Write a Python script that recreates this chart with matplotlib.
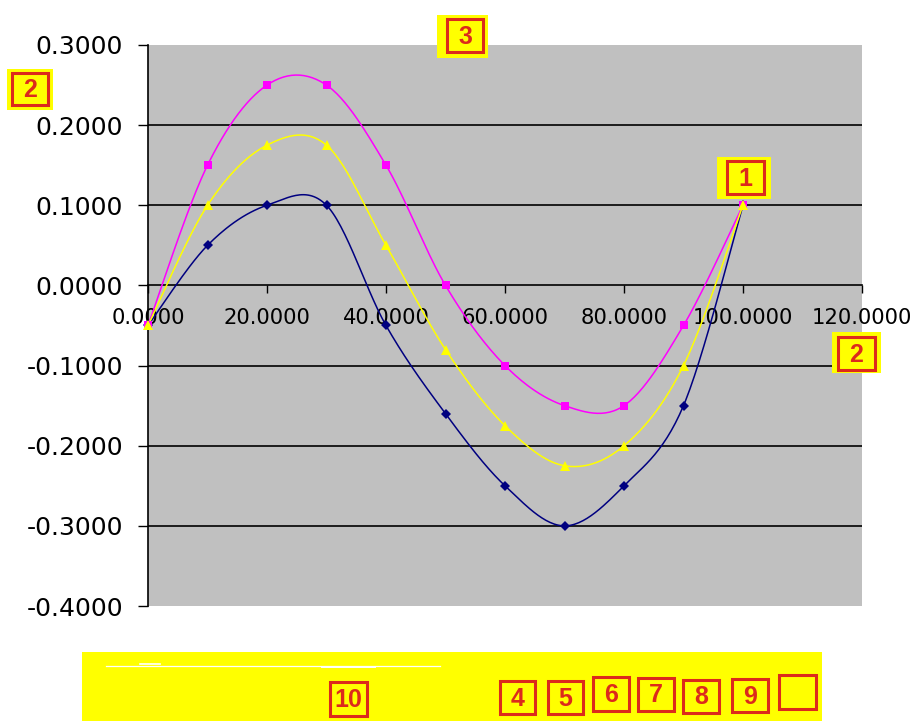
import numpy as np
import matplotlib
matplotlib.use("Agg")
import matplotlib.pyplot as plt
from matplotlib.patches import Rectangle
from matplotlib.lines import Line2D

x = [0, 10, 20, 30, 40, 50, 60, 70, 80, 90, 100]
navy_y = [-0.05, 0.05, 0.10, 0.10, -0.05, -0.16, -0.25, -0.30, -0.25, -0.15, 0.10]
pink_y = [-0.05, 0.15, 0.25, 0.25, 0.15, 0.00, -0.10, -0.15, -0.15, -0.05, 0.10]
gold_y = [-0.05, 0.10, 0.175, 0.175, 0.05, -0.08, -0.175, -0.225, -0.20, -0.10, 0.10]

x_ticks = [0, 20, 40, 60, 80, 100, 120]
y_ticks = [-0.4, -0.3, -0.2, -0.1, 0.0, 0.1, 0.2, 0.3]

W, H = 911, 721
RED = "#DC2A1C"


def smooth(xs, ys, n=30):
    # catmull-rom curve through the points, like a "smoothed line" chart
    px = np.r_[xs[0], xs, xs[-1]].astype(float)
    py = np.r_[ys[0], ys, ys[-1]].astype(float)
    t = np.linspace(0, 1, n)[:, None]
    out_x, out_y = [], []
    for i in range(1, len(px) - 2):
        for p, out in ((px, out_x), (py, out_y)):
            p0, p1, p2, p3 = p[i - 1], p[i], p[i + 1], p[i + 2]
            seg = 0.5 * (2 * p1 + (-p0 + p2) * t + (2 * p0 - 5 * p1 + 4 * p2 - p3) * t ** 2
                         + (-p0 + 3 * p1 - 3 * p2 + p3) * t ** 3)
            out.extend(seg.ravel())
    return out_x, out_y


def fig_xy(px, py):
    return px / W, 1 - py / H


def badge(fig, x0, y0, x1, y1, text="", pad=None):
    # red framed number, optionally on a yellow patch
    if pad is not None:
        ax0, ay0 = fig_xy(pad[0], pad[3])
        fig.add_artist(Rectangle((ax0, ay0), (pad[2] - pad[0]) / W, (pad[3] - pad[1]) / H,
                                 transform=fig.transFigure, facecolor="#FFFF00",
                                 edgecolor="none", zorder=5))
    bx, by = fig_xy(x0, y1)
    fig.add_artist(Rectangle((bx, by), (x1 - x0) / W, (y1 - y0) / H,
                             transform=fig.transFigure, facecolor="#FFFF00",
                             edgecolor=RED, linewidth=2.2, zorder=6))
    if text:
        cx, cy = fig_xy((x0 + x1) / 2, (y0 + y1) / 2 + 1)
        fig.text(cx, cy, text, color=RED, fontsize=18, fontweight="bold",
                 family="Liberation Sans", ha="center", va="center", zorder=7)


plt.rcParams["font.family"] = ["DejaVu Sans"]

fig = plt.figure(figsize=(W / 100, H / 100), dpi=100, facecolor="white")
ax = fig.add_axes([148 / W, 1 - 606 / H, (862 - 148) / W, (606 - 45) / H])
ax.set_facecolor("#C0C0C0")

ax.set_xlim(0, 120)
ax.set_ylim(-0.4, 0.3)

for yv in y_ticks[1:-1]:
    if yv != 0:
        ax.axhline(yv, color="black", lw=1.2, zorder=1)

series = [
    (navy_y, "#000080", "D", 5.5),
    (pink_y, "#FF00FF", "s", 6),
    (gold_y, "#FFFF00", "^", 7),
]
for ys, col, mk, ms in series:
    sx, sy = smooth(np.array(x), np.array(ys))
    ax.plot(sx, sy, color=col, lw=1.1, zorder=3, clip_on=False)
    ax.plot(x, ys, linestyle="none", marker=mk, color=col, markersize=ms,
            markeredgewidth=0, zorder=4, clip_on=False)

for side in ("top", "right"):
    ax.spines[side].set_visible(False)
ax.spines["bottom"].set_position(("data", 0))
ax.spines["bottom"].set_linewidth(1.2)
ax.spines["left"].set_linewidth(1.2)

ax.set_xticks(x_ticks)
ax.set_xticklabels([f"{v:.4f}" for v in x_ticks])
ax.set_yticks(y_ticks)
ax.set_yticklabels([f"{v:.4f}" for v in y_ticks])
ax.tick_params(axis="x", direction="out", length=6, width=1, labelsize=15.2, pad=10)
ax.tick_params(axis="y", direction="out", length=7, width=1, labelsize=18, pad=11)

# number badges around the plot
badge(fig, 727, 161, 764, 194, "1", pad=(717, 157, 771, 199))
badge(fig, 12, 73, 48, 105, "2", pad=(7, 69, 53, 110))
badge(fig, 447, 19, 483, 52, "3", pad=(437, 15, 488, 58))
badge(fig, 838, 337, 875, 370, "2", pad=(832, 332, 881, 373))

# yellow strip along the bottom
lx, ly = fig_xy(82, 721)
fig.add_artist(Rectangle((lx, ly), (822 - 82) / W, (721 - 652) / H,
                         transform=fig.transFigure, facecolor="#FFFF00",
                         edgecolor="none", zorder=5))
for (xa, xb, yy, lw) in [(106, 440, 666, 0.9), (140, 160, 664, 1.2), (322, 375, 667, 1.4)]:
    fa, ya = fig_xy(xa, yy)
    fb, _ = fig_xy(xb, yy)
    fig.add_artist(Line2D([fa, fb], [ya, ya], transform=fig.transFigure,
                          color="white", lw=lw, zorder=6))

legend_boxes = [
    (330, 682, 367, 716, "10"),
    (500, 681, 535, 714, "4"),
    (548, 681, 583, 714, "5"),
    (593, 677, 629, 711, "6"),
    (638, 678, 674, 711, "7"),
    (683, 680, 719, 713, "8"),
    (732, 679, 768, 712, "9"),
    (779, 675, 816, 709, ""),
]
for x0, y0, x1, y1, t in legend_boxes:
    badge(fig, x0, y0, x1, y1, t)

fig.savefig("out.png", dpi=100, facecolor="white")
